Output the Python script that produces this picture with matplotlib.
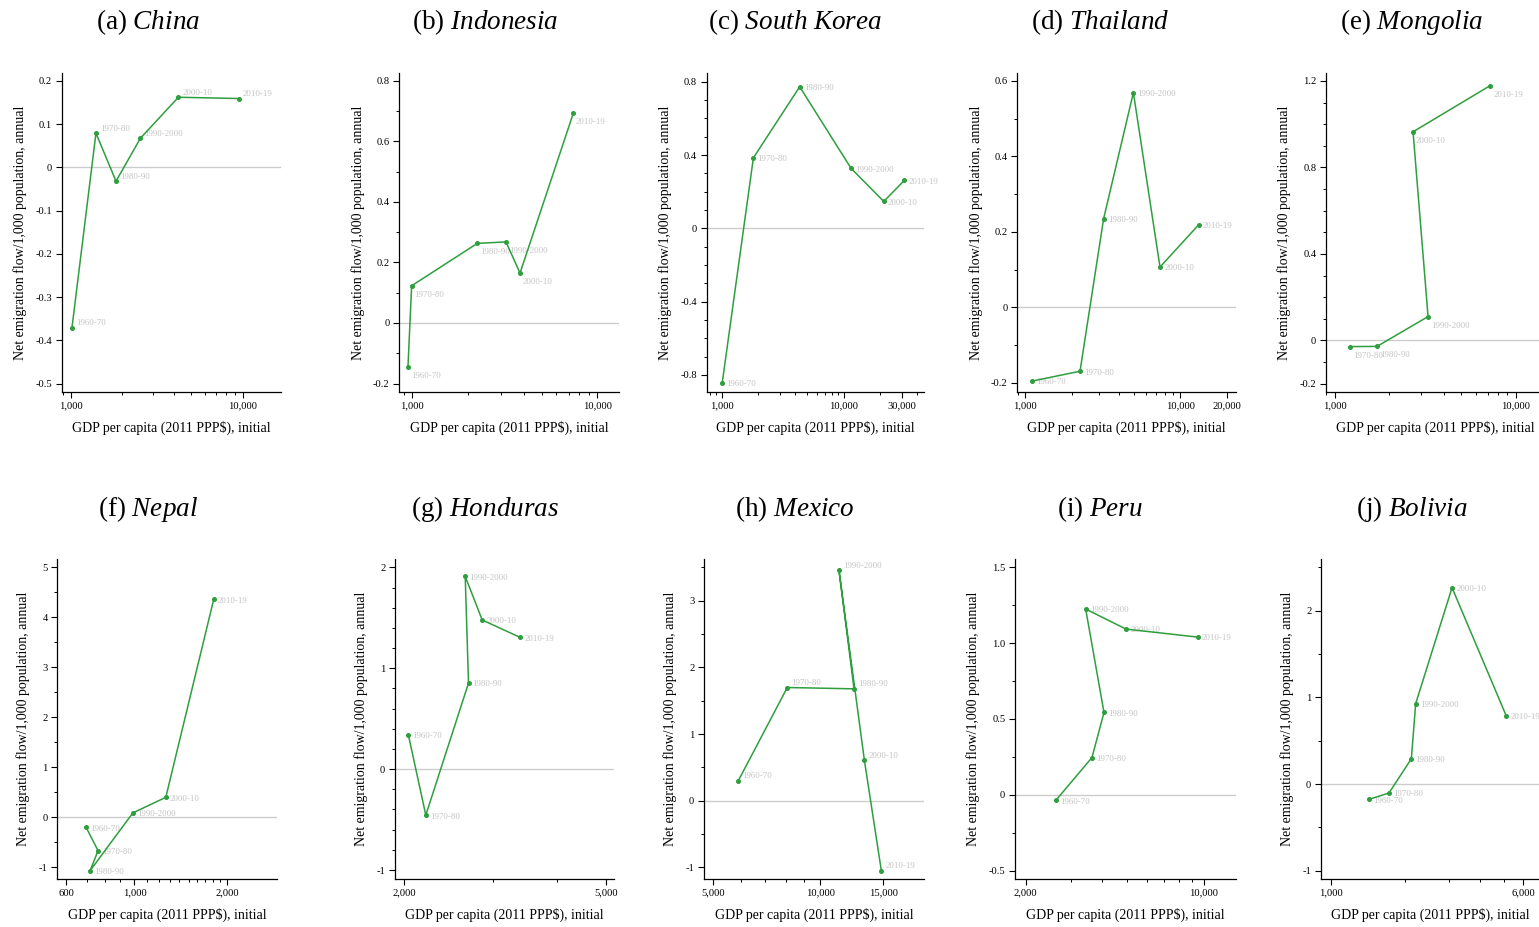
#!/usr/bin/env python3
"""Net emigration vs GDP per capita, ten countries."""

import matplotlib
matplotlib.use('Agg')
import matplotlib.pyplot as plt
from matplotlib.ticker import FixedLocator, NullFormatter, FuncFormatter, LogLocator

plt.rcParams['font.family'] = ['Liberation Serif', 'DejaVu Serif']
plt.rcParams['axes.unicode_minus'] = False
plt.rcParams['mathtext.fontset'] = 'custom'
plt.rcParams['mathtext.rm'] = 'Liberation Serif'
plt.rcParams['mathtext.it'] = 'Liberation Serif:italic'

#### DATA ####
decades = ['1960-70', '1970-80', '1980-90', '1990-2000', '2000-10', '2010-19']
mongoliaDecades = decades[1:]

chinaGdp      = [1018, 1403, 1835, 2541, 4227, 9485]
chinaFlow     = [-0.37, 0.079, -0.032, 0.067, 0.162, 0.159]
indonesiaGdp  = [948, 992, 2244, 3207, 3819, 7410]
indonesiaFlow = [-0.145, 0.123, 0.263, 0.268, 0.165, 0.693]
koreaGdp      = [1010, 1818, 4355, 11480, 21290, 31400]
koreaFlow     = [-0.842, 0.385, 0.773, 0.328, 0.147, 0.262]
thailandGdp   = [1110, 2254, 3200, 4980, 7393, 13130]
thailandFlow  = [-0.195, -0.169, 0.235, 0.569, 0.107, 0.219]
mongoliaGdp   = [1215, 1714, 3279, 2709, 7244]
mongoliaFlow  = [-0.029, -0.028, 0.110, 0.965, 1.179]
nepalGdp      = [697, 762, 718, 988, 1264, 1808]
nepalFlow     = [-0.20, -0.668, -1.068, 0.087, 0.40, 4.36]
hondurasGdp   = [2040, 2208, 2680, 2640, 2852, 3388]
hondurasFlow  = [0.340, -0.456, 0.853, 1.911, 1.478, 1.306]
mexicoGdp     = [5889, 8079, 12430, 11280, 13290, 14830]
mexicoFlow    = [0.30, 1.698, 1.678, 3.455, 0.606, -1.052]
peruGdp       = [2632, 3643, 4061, 3441, 4955, 9471]
peruFlow      = [-0.035, 0.246, 0.543, 1.225, 1.093, 1.040]
boliviaGdp    = [1428, 1720, 2117, 2204, 3090, 5117]
boliviaFlow   = [-0.177, -0.104, 0.292, 0.927, 2.265, 0.785]

#### LAYOUT ####
W, H = 1539, 927
dpi = 100
green = '#2e9e3e'
labelGrey = '#c4c4c4'
xlabel = 'GDP per capita (2011 PPP$), initial'
ylabel = 'Net emigration flow/1,000 population, annual'
nepalMinor = list(range(600, 2001, 100))

# tag, name, gdp, flow, decades, xlim, xticks, x minor, ylim, yticks, y minor step, decimals, label pos, rect px (l, t, r, b)
panels = [
    ('(a)', 'China', chinaGdp, chinaFlow, decades, (887, 16630), [1000, 10000], None,
     (-0.519, 0.218), [-0.5, -0.4, -0.3, -0.2, -0.1, 0, 0.1, 0.2], None, 1, 'up', (61.7, 73, 280.7, 392)),
    ('(b)', 'Indonesia', indonesiaGdp, indonesiaFlow, decades, (851, 13030), [1000, 10000], None,
     (-0.228, 0.826), [-0.2, 0, 0.2, 0.4, 0.6, 0.8], 0.1, 1, 'down', (399.3, 73, 618.7, 392)),
    ('(c)', 'South\\ Korea', koreaGdp, koreaFlow, decades, (753, 45500), [1000, 10000, 30000], None,
     (-0.893, 0.848), [-0.8, -0.4, 0, 0.4, 0.8], 0.1, 1, 'mid', (706.7, 73, 924, 392)),
    ('(d)', 'Thailand', thailandGdp, thailandFlow, decades, (888, 22860), [1000, 10000, 20000], None,
     (-0.224, 0.621), [-0.2, 0, 0.2, 0.4, 0.6], 0.1, 1, 'mid', (1017.3, 73, 1236, 392)),
    ('(e)', 'Mongolia', mongoliaGdp, mongoliaFlow, mongoliaDecades, (895, 14520), [1000, 10000], None,
     (-0.239, 1.237), [-0.2, 0, 0.4, 0.8, 1.2], 0.1, 1, 'down', (1326, 73, 1545, 392)),
    ('(f)', 'Nepal', nepalGdp, nepalFlow, decades, (562, 2894), [600, 1000, 2000], nepalMinor,
     (-1.234, 5.167), [-1, 0, 1, 2, 3, 4, 5], 0.5, 0, 'mid', (57.3, 559, 276.7, 879)),
    ('(g)', 'Honduras', hondurasGdp, hondurasFlow, decades, (1920, 5185), [2000, 5000], None,
     (-1.089, 2.083), [-1, 0, 1, 2], 0.2, 0, 'mid', (395, 559, 614, 879)),
    ('(h)', 'Mexico', mexicoGdp, mexicoFlow, decades, (4718, 19530), [5000, 10000, 15000], None,
     (-1.175, 3.626), [-1, 0, 1, 2, 3], 0.5, 0, 'up', (704, 559, 924, 879)),
    ('(i)', 'Peru', peruGdp, peruFlow, decades, (1816, 13400), [2000, 10000], None,
     (-0.555, 1.555), [-0.5, 0, 0.5, 1.0, 1.5], 0.25, 1, 'mid', (1015, 559, 1236, 879)),
    ('(j)', 'Bolivia', boliviaGdp, boliviaFlow, decades, (914, 7000), [1000, 6000], None,
     (-1.096, 2.596), [-1, 0, 1, 2], 0.5, 0, 'mid', (1321, 559, 1540, 879)),
]

titleX = [148, 485, 795, 1100, 1412]
titleY = [22, 509]
labelOffsets = {'up': (3, 3.2), 'mid': (3, -1.0), 'down': (2, -6.5)}


def yFormatter(decimals):
    def fmt(v, pos):
        if abs(v) < 1e-9:
            return '0'
        return '{:.{}f}'.format(v, decimals)
    return FuncFormatter(fmt)


fig = plt.figure(figsize=(W/dpi, H/dpi), dpi=dpi)

for idx, p in enumerate(panels):
    tag, name, gdp, flow, labels, xlim, xticks, xminor, ylim, yticks, yminor, dec, lpos, rect = p
    l, t, r, b = rect
    ax = fig.add_axes([l/W, 1 - b/H, (r - l)/W, (b - t)/H])

    ax.axhline(0, color='#cccccc', lw=1.0, zorder=1)
    ax.plot(gdp, flow, color=green, lw=1.1, marker='o', ms=2.6, zorder=3)
    dx, dy = labelOffsets[lpos]
    for x, y, lab in zip(gdp, flow, labels):
        ax.annotate(lab, (x, y), xytext=(dx, dy), textcoords='offset points',
                    fontsize=6.4, color=labelGrey, ha='left', va='center', zorder=2)

    ax.set_xscale('log')
    ax.set_xlim(*xlim)
    ax.set_ylim(*ylim)
    ax.xaxis.set_major_locator(FixedLocator(xticks))
    ax.xaxis.set_major_formatter(FuncFormatter(lambda v, pos: '{:,.0f}'.format(v)))
    if xminor is not None:
        ax.xaxis.set_minor_locator(FixedLocator(xminor))
    else:
        ax.xaxis.set_minor_locator(LogLocator(base=10, subs=(2, 3, 4, 5, 6, 7, 8, 9)))
    ax.xaxis.set_minor_formatter(NullFormatter())
    ax.yaxis.set_major_locator(FixedLocator(yticks))
    ax.yaxis.set_major_formatter(yFormatter(dec))
    if yminor is not None:
        mticks = []
        v = yticks[0]
        while v <= ylim[1] + 1e-9:
            mticks.append(round(v, 4))
            v += yminor
        ax.yaxis.set_minor_locator(FixedLocator(mticks))

    for s in ['top', 'right']:
        ax.spines[s].set_visible(False)
    for s in ['left', 'bottom']:
        ax.spines[s].set_linewidth(0.9)
    ax.tick_params(which='major', direction='out', length=4, width=0.8, labelsize=7.6, pad=3)
    ax.tick_params(which='minor', direction='out', length=2.5, width=0.7)

    ax.set_xlabel(xlabel, fontsize=10, labelpad=7)
    ax.set_ylabel(ylabel, fontsize=10, labelpad=6)

    row, col = divmod(idx, 5)
    fig.text(titleX[col]/W, 1 - titleY[row]/H, tag + ' $\\mathit{' + name + '}$',
             fontsize=19.5, ha='center', va='center')

fig.savefig('out.png', dpi=dpi)
